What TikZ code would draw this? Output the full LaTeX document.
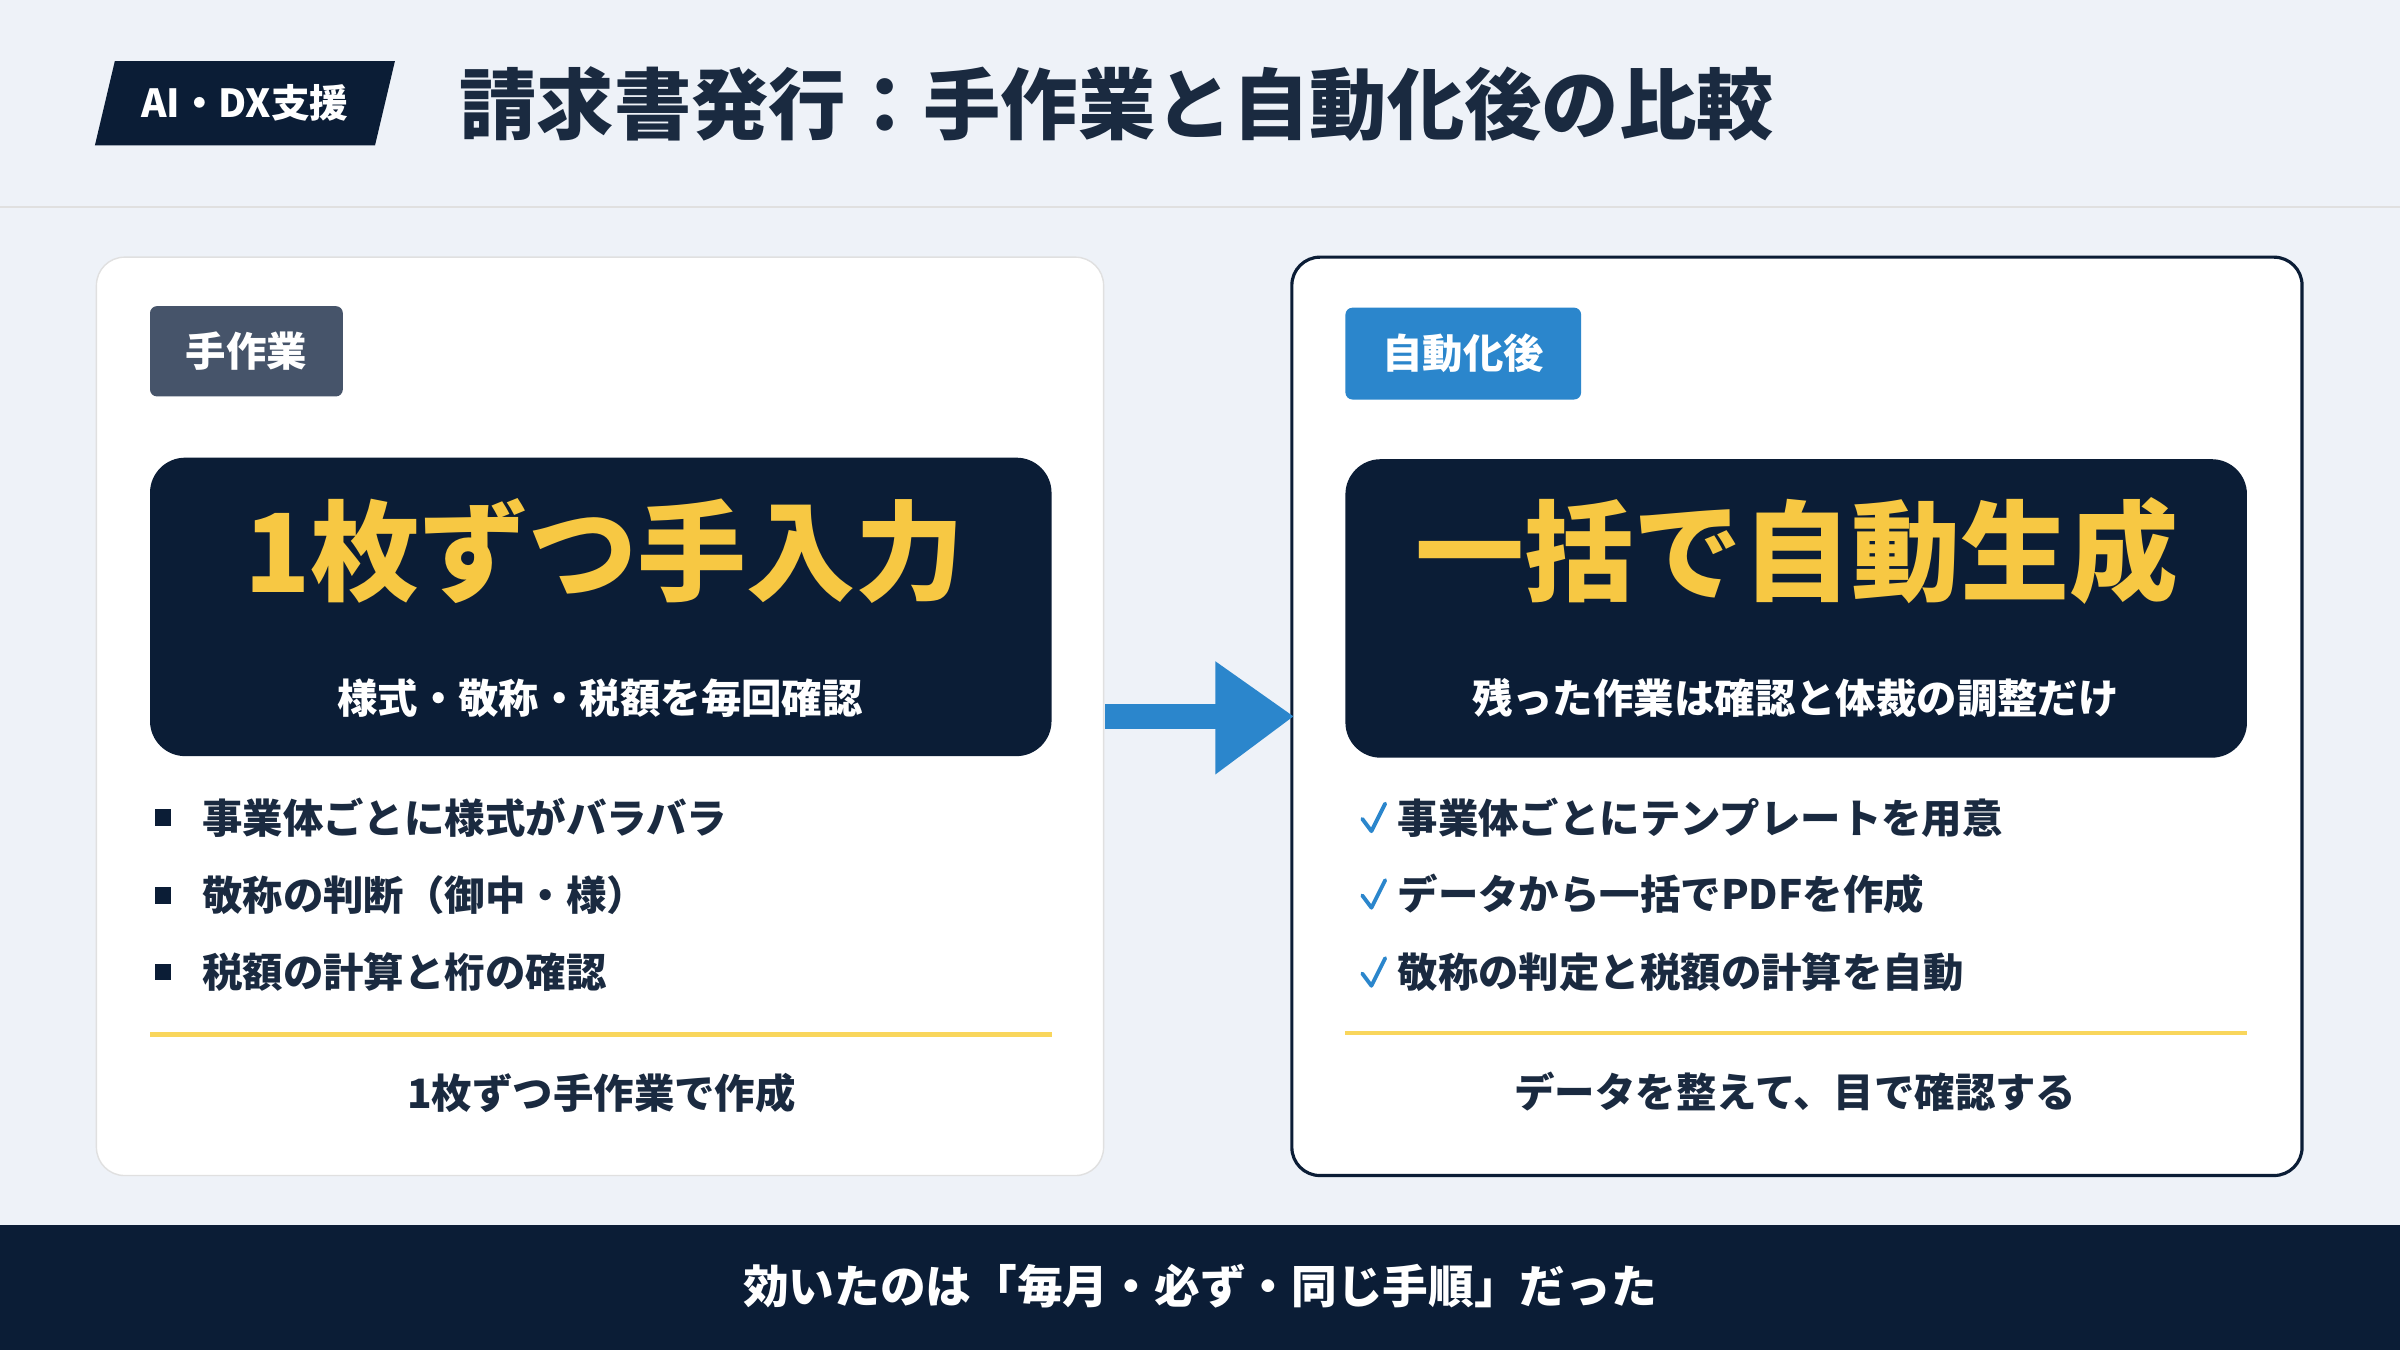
\documentclass[tikz,border=0pt]{standalone}
\usepackage{fontspec}
\setmainfont{Noto Sans CJK JP}
\begin{document}
\definecolor{navy}{HTML}{0B1D36}
\definecolor{bgc}{HTML}{EEF2F8}
\definecolor{tagg}{HTML}{46546A}
\definecolor{blu}{HTML}{2B86CC}
\definecolor{gold}{HTML}{F7C843}
\definecolor{yl}{HTML}{F9D65C}
\definecolor{txt}{HTML}{1A2A40}
\begin{tikzpicture}[x=0.015306cm,y=-0.015306cm,
 card/.style={rounded corners=8pt},
 tag/.style={font=\fontsize{11.5}{13}\selectfont\bfseries,text=white,anchor=center},
 big/.style={font=\fontsize{31}{34}\selectfont\bfseries,text=gold},
 sub/.style={font=\fontsize{11.5}{13}\selectfont\bfseries,text=white},
 item/.style={font=\fontsize{11.5}{13}\selectfont\bfseries,text=txt,anchor=west},
 foot/.style={font=\fontsize{11.5}{13}\selectfont\bfseries,text=txt}]
\fill[bgc] (0,0) rectangle (1568,882);
\useasboundingbox (0,0) rectangle (1568,882);
\draw[black!12,line width=0.5pt] (0,135) -- (1568,135);
% badge
\fill[navy] (75,40) -- (258,40) -- (245,95) -- (62,95) -- cycle;
\node[font=\fontsize{11}{12}\selectfont\bfseries,text=white] (badge) at (160,67) {AI・DX支援};
\node[font=\fontsize{22}{24}\selectfont\bfseries,text=txt,anchor=west] (title) at (292,68) {請求書発行：手作業と自動化後の比較};
% left card
\filldraw[card,fill=white,draw=black!12] (63,168) rectangle (721,768);
\fill[tagg,rounded corners=2pt] (98,200) rectangle (224,259);
\node[tag] (t1) at (161,229.5) {手作業};
\fill[navy,rounded corners=10pt] (98,299) rectangle (687,494);
\node[big] (b1) at (395,360) {1枚ずつ手入力};
\node[sub] (s1) at (392,456) {様式・敬称・税額を毎回確認};
\foreach \y/\t [count=\i] in {534/事業体ごとに様式がバラバラ,585/敬称の判断（御中・様）,635/税額の計算と桁の確認}{
 \fill[navy] (101,\y-5.5) rectangle (112,\y+5.5);
 \node[item] (l\i) at (124,\y) {\t};}
\draw[yl,line width=1.3pt] (98,676) -- (687,676);
\node[foot] (f1) at (393,714) {1枚ずつ手作業で作成};
% right card
\filldraw[card,fill=white,draw=navy,line width=0.9pt] (844,168) rectangle (1504,768);
\fill[blu,rounded corners=2pt] (879,201) rectangle (1033,261);
\node[tag] (t2) at (956,231) {自動化後};
\fill[navy,rounded corners=10pt] (879,300) rectangle (1468,495);
\node[big] (b2) at (1174,360) {一括で自動生成};
\node[sub] (s2) at (1173,456) {残った作業は確認と体裁の調整だけ};
\foreach \y/\t [count=\i] in {534/事業体ごとにテンプレートを用意,584/データから一括でPDFを作成,635/敬称の判定と税額の計算を自動}{
 \draw[blu,line width=1.1pt,line cap=round,line join=round] (890,\y+1) -- (896,\y+9) -- (905,\y-9);
 \node[item] (r\i) at (905,\y) {\t};}
\draw[yl,line width=1.3pt] (879,675) -- (1468,675);
\node[foot] (f2) at (1173,713) {データを整えて、目で確認する};
% arrow
\fill[blu] (722,460) rectangle (800,476);
\fill[blu] (794,432) -- (845,468) -- (794,506) -- cycle;
% bottom band
\fill[navy] (0,800) rectangle (1568,882);
\node[font=\fontsize{13}{15}\selectfont\bfseries,text=white] (bot) at (784,840) {効いたのは「毎月・必ず・同じ手順」だった};
\end{tikzpicture}
\end{document}
